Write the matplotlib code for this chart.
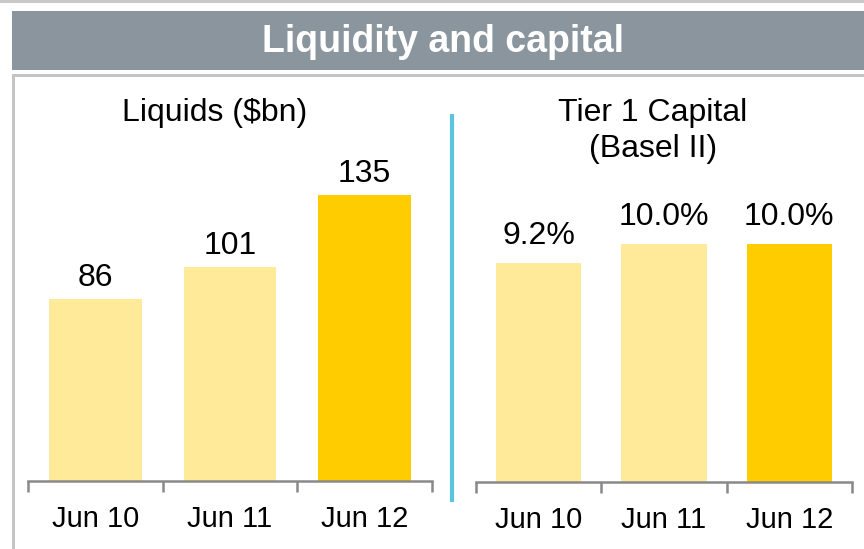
import matplotlib
matplotlib.use("Agg")
import matplotlib.pyplot as plt
from matplotlib.patches import Rectangle
from matplotlib.lines import Line2D

# Data
categories = ["Jun 10", "Jun 11", "Jun 12"]
liquids = [86, 101, 135]
liquid_labels = ["86", "101", "135"]
tier1 = [9.2, 10.0, 10.0]
tier1_labels = ["9.2%", "10.0%", "10.0%"]
bar_colors = ["#FFEA9A", "#FFEA9A", "#FFCC00"]

W, H = 864, 549
fig = plt.figure(figsize=(W / 100, H / 100), dpi=100)
plt.rcParams['font.family'] = ['Liberation Sans', 'DejaVu Sans']

def fx(x):
    return x / W

def fy(y):
    return 1 - y / H

def rect(x0, y0, x1, y1, color):
    fig.add_artist(Rectangle((fx(x0), fy(y1)), fx(x1) - fx(x0), fy(y0) - fy(y1),
                             transform=fig.transFigure, facecolor=color, edgecolor='none'))

# top border line
rect(0, 0, W, 3, "#C8C8C8")
# header band
rect(12, 11, W, 70, "#8A959E")
fig.text(fx(443), fy(42), "Liquidity and capital", color="white", fontsize=27,
         fontweight="bold", ha="center", va="center")
# panel border lines
rect(12, 74, W, 77, "#C4C4C4")
rect(12, 74, 15, H, "#C4C4C4")
# blue divider
fig.add_artist(Line2D([fx(452), fx(452)], [fy(114), fy(502)], transform=fig.transFigure,
                      color="#5BC5E0", lw=3, solid_capstyle='butt'))

def make_axes(x0, x1, base, top_px, values, labels, px_per_unit, width, offset,
              title, title_x, title_y):
    ax = fig.add_axes([fx(x0), fy(base), fx(x1) - fx(x0), fy(top_px) - fy(base)])
    ymax = (base - top_px) / px_per_unit
    ax.set_ylim(0, ymax)
    ax.set_xlim(-0.5, 2.5)
    xs = range(len(values))
    ax.bar(xs, values, width=width, color=bar_colors, edgecolor='none')
    for x, v, lab in zip(xs, values, labels):
        ax.annotate(lab, (x, v), xytext=(0, offset), textcoords='offset pixels',
                    ha='center', va='bottom', fontsize=23, color='black')
    for s in ['top', 'right', 'left']:
        ax.spines[s].set_visible(False)
    ax.spines['bottom'].set_color('#898989')
    ax.spines['bottom'].set_linewidth(1.8)
    ax.set_yticks([])
    ax.set_xticks([-0.5, 0.5, 1.5, 2.5])
    ax.set_xticklabels([])
    ax.tick_params(axis='x', length=8, width=1.8, color='#898989', direction='out')
    ax.set_xticks(list(xs), minor=True)
    ax.set_xticklabels(categories, minor=True, fontsize=21)
    ax.tick_params(axis='x', which='minor', length=0, pad=17)
    ax.patch.set_alpha(0)
    fig.text(fx(title_x), fy(title_y), title, ha='center', va='center',
             fontsize=23, linespacing=1.25)
    return ax

make_axes(28, 432, 481, 140, liquids, liquid_labels, 286 / 135, 0.69, 6,
          "Liquids ($bn)", 215, 113)
make_axes(476, 852, 482, 140, tier1, tier1_labels, 238 / 10.0, 0.68, 12,
          "Tier 1 Capital\n(Basel II)", 653, 131)

fig.savefig("out.png", dpi=100)
